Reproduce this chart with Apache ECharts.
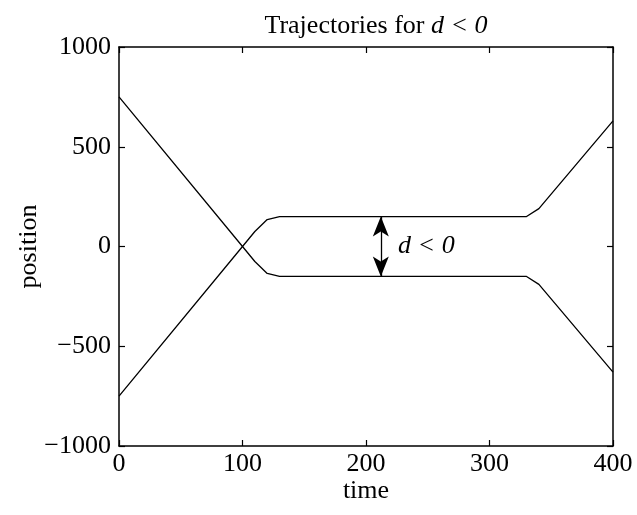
<!DOCTYPE html>
<html>
<head>
<meta charset="utf-8">
<script src="https://cdn.jsdelivr.net/npm/echarts@6/dist/echarts.min.js"></script>
<style>
  html, body { margin: 0; padding: 0; background: #fff; }
  #main { width: 637px; height: 515px; }
</style>
</head>
<body>
<div id="main"></div>
<script>
// trajectory data
const time = [0, 100, 110, 120, 130, 330, 340, 400];
const upperStart = [750, 0, -75, -135, -150, -150, -190, -630];
const lowerStart = [-750, 0, 75, 135, 150, 150, 190, 630];
const xTicks = [0, 100, 200, 300, 400];
const yTicks = [-1000, -500, 0, 500, 1000];
const gapTime = 212;
const gapValues = [150, -150];

const font = 'Liberation Serif';
const fs = 26;
const chart = echarts.init(document.getElementById('main'));

const fmtNum = v => (v < 0 ? '\u2212' + Math.abs(v) : String(v));

const baseX = {
  type: 'value', min: 0, max: 400, interval: 100,
  axisLine: {show: true, onZero: false, lineStyle: {color: '#000', width: 1.5}},
  axisTick: {show: true, inside: true, length: 6, lineStyle: {color: '#000', width: 1.2}},
  splitLine: {show: false}
};
const baseY = {
  type: 'value', min: -1000, max: 1000, interval: 500,
  axisLine: {show: true, onZero: false, lineStyle: {color: '#000', width: 1.5}},
  axisTick: {show: true, inside: true, length: 6, lineStyle: {color: '#000', width: 1.2}},
  splitLine: {show: false}
};

const option = {
  animation: false,
  backgroundColor: '#fff',
  title: {
    text: 'Trajectories for {i|d < 0}',
    left: 371, top: 8, textAlign: 'center',
    textStyle: {
      fontFamily: font, fontSize: fs, fontWeight: 'normal', color: '#000',
      rich: {i: {fontFamily: font, fontSize: fs, fontStyle: 'italic', color: '#000'}}
    }
  },
  grid: {left: 119, right: 24, top: 47, bottom: 69},
  xAxis: [
    Object.assign({}, baseX, {
      position: 'bottom',
      name: 'time', nameLocation: 'middle', nameGap: 32, nameMoveOverlap: false,
      nameTextStyle: {fontFamily: font, fontSize: fs, color: '#000'},
      axisLabel: {fontFamily: font, fontSize: fs, color: '#000', margin: 5,
        formatter: v => xTicks.includes(v) ? fmtNum(v) : ''}
    }),
    Object.assign({}, baseX, {position: 'top', axisLabel: {show: false}})
  ],
  yAxis: [
    Object.assign({}, baseY, {
      position: 'left',
      name: 'position', nameLocation: 'middle', nameGap: 77, nameMoveOverlap: false,
      nameTextStyle: {fontFamily: font, fontSize: fs, color: '#000'},
      axisLabel: {fontFamily: font, fontSize: fs, color: '#000', margin: 8,
        formatter: v => yTicks.includes(v) ? fmtNum(v) : ''}
    }),
    Object.assign({}, baseY, {position: 'right', axisLabel: {show: false}})
  ],
  series: [
    {
      type: 'line', showSymbol: false, symbol: 'none',
      data: time.map((t, i) => [t, upperStart[i]]),
      lineStyle: {color: '#000', width: 1.3}
    },
    {
      type: 'line', showSymbol: false, symbol: 'none',
      data: time.map((t, i) => [t, lowerStart[i]]),
      lineStyle: {color: '#000', width: 1.3},
      markLine: {
        silent: true,
        symbol: ['arrow', 'arrow'],
        symbolSize: [12, 20],
        lineStyle: {color: '#000', width: 1.3, type: 'solid'},
        label: {show: false},
        data: [[{coord: [gapTime, gapValues[0]]}, {coord: [gapTime, gapValues[1]]}]]
      },
      markPoint: {
        silent: true,
        symbol: 'circle', symbolSize: 0,
        label: {
          show: true, position: 'right', distance: 0,
          formatter: 'd < 0',
          fontFamily: font, fontSize: fs, fontStyle: 'italic', color: '#000'
        },
        data: [{coord: [226, 0]}]
      }
    }
  ]
};

chart.setOption(option);
</script>
</body>
</html>
